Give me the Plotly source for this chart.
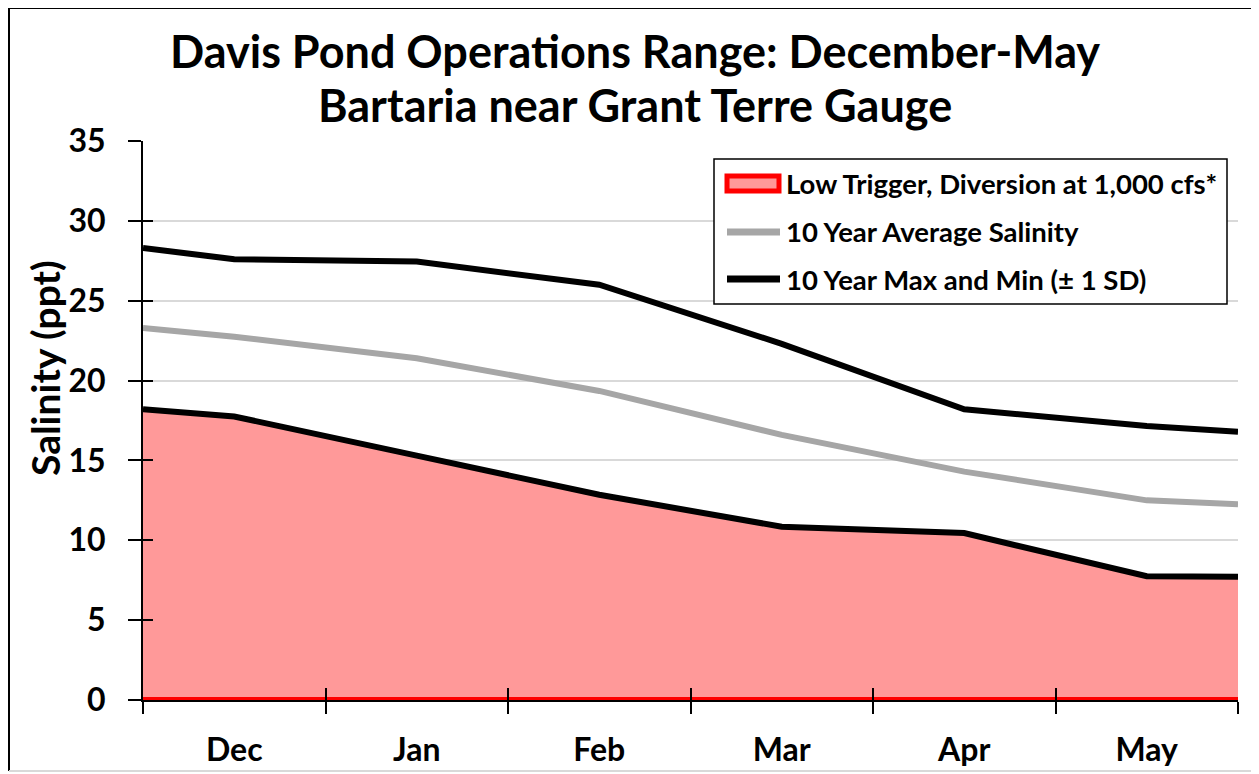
import plotly.graph_objects as go

# ---- data ----
title_lines = ["Davis Pond Operations Range: December-May", "Bartaria near Grant Terre Gauge"]
y_title = "Salinity (ppt)"
months = ["Dec", "Jan", "Feb", "Mar", "Apr", "May"]
month_centers = [0.5, 1.5, 2.5, 3.5, 4.5, 5.5]
month_bounds = [0, 1, 2, 3, 4, 5, 6]
x_points = [0, 0.5, 1.5, 2.5, 3.5, 4.5, 5.5, 6]
sal_max = [28.3, 27.6, 27.45, 26.0, 22.3, 18.2, 17.15, 16.8]
sal_avg = [23.3, 22.75, 21.4, 19.35, 16.6, 14.3, 12.5, 12.25]
sal_min = [18.2, 17.75, 15.3, 12.85, 10.85, 10.45, 7.75, 7.72]
low_trigger = [0, 0, 0, 0, 0, 0, 0, 0]
y_ticks = [0, 5, 10, 15, 20, 25, 30, 35]
legend_names = ["Low Trigger, Diversion at 1,000 cfs*", "10 Year Average Salinity",
                "10 Year Max and Min (± 1 SD)"]

FONT = "Lato"
OFF = 8  # page body margin offset
W, H = 1259, 774
# plot area in screen pixels: x 143..1238, y 141..700
ML, MT = 143 - OFF, 141 - OFF
MR, MB = W - (1238 - OFF), H - (700 - OFF)
PW, PH = W - ML - MR, H - MT - MB


def px(x):  # screen pixel x -> paper x
    return (x - OFF - ML) / PW


def py(y):  # screen pixel y -> paper y
    return (H - MB - (y - OFF)) / PH


fig = go.Figure()

fig.add_trace(go.Scatter(
    x=x_points, y=sal_min, mode="lines", fill="tozeroy",
    fillcolor="#FF9999", line=dict(color="#FF0000", width=3),
    name=legend_names[0], showlegend=False))
fig.add_trace(go.Scatter(
    x=x_points, y=low_trigger, mode="lines",
    line=dict(color="#FF0000", width=6), showlegend=False))
fig.add_trace(go.Scatter(
    x=x_points, y=sal_avg, mode="lines",
    line=dict(color="#A6A6A6", width=6),
    name=legend_names[1], showlegend=False))
fig.add_trace(go.Scatter(
    x=x_points, y=sal_max, mode="lines",
    line=dict(color="#000000", width=6),
    name=legend_names[2], showlegend=False))
fig.add_trace(go.Scatter(
    x=x_points, y=sal_min, mode="lines",
    line=dict(color="#000000", width=6), showlegend=False))
# invisible helper trace for overlay axes (inner half of crossing ticks)
fig.add_trace(go.Scatter(
    x=[x_points[0]], y=[low_trigger[0]], xaxis="x2", yaxis="y2", mode="markers",
    marker=dict(opacity=0), showlegend=False, hoverinfo="skip"))

fig.update_layout(
    width=W, height=H,
    margin=dict(l=ML, r=MR, t=MT, b=MB),
    paper_bgcolor="white", plot_bgcolor="white",
    font=dict(family=FONT, color="black"),
    showlegend=False,
    xaxis=dict(
        range=[0, 6], tickmode="array", tickvals=month_centers, ticktext=["<b>%s</b>" % m for m in months],
        ticks="", showgrid=False, showline=True, linecolor="black", linewidth=2,
        tickfont=dict(family=FONT, size=32), ticklabelstandoff=21, zeroline=False,
        minor=dict(tickmode="array", tickvals=month_bounds, ticks="outside",
                   ticklen=12, tickwidth=2, tickcolor="black", showgrid=False),
    ),
    yaxis=dict(
        range=[0, 35], tickmode="array", tickvals=y_ticks, ticktext=["<b>%d</b>" % v for v in y_ticks],
        ticks="outside", ticklen=13, tickwidth=2, tickcolor="black",
        showgrid=True, gridcolor="#D9D9D9", gridwidth=2,
        showline=True, linecolor="black", linewidth=2, zeroline=False,
        tickfont=dict(family=FONT, size=32), ticklabelstandoff=16,
    ),
    xaxis2=dict(
        overlaying="x", anchor="y2", range=[0, 6], tickmode="array", tickvals=month_bounds,
        ticks="inside", ticklen=12, tickwidth=2, tickcolor="black",
        showticklabels=False, showgrid=False, showline=False, zeroline=False),
    yaxis2=dict(
        overlaying="y", anchor="x2", range=[0, 35], tickmode="array", tickvals=y_ticks,
        ticks="inside", ticklen=10, tickwidth=2, tickcolor="black",
        showticklabels=False, showgrid=False, showline=False, zeroline=False),
)

# title
fig.add_annotation(
    text="<b>%s</b>" % title_lines[0], showarrow=False,
    xref="paper", yref="paper", x=px(635), y=py(51), xanchor="center", yanchor="middle",
    font=dict(family=FONT, size=45, color="black"))
fig.add_annotation(
    text="<b>%s</b>" % title_lines[1], showarrow=False,
    xref="paper", yref="paper", x=px(635), y=py(105), xanchor="center", yanchor="middle",
    font=dict(family=FONT, size=45, color="black"))

# y-axis title
fig.add_annotation(
    text="<b>%s</b>" % y_title, textangle=-90, showarrow=False,
    xref="paper", yref="paper", x=px(45), y=py(368), xanchor="center", yanchor="middle",
    font=dict(family=FONT, size=39, color="black"))

# legend (box, symbols, labels)
fig.add_shape(type="rect", xref="paper", yref="paper",
              x0=px(714), x1=px(1227), y0=py(304), y1=py(159),
              fillcolor="white", line=dict(color="black", width=1.5))
rows = [183, 232, 279]
fig.add_shape(type="rect", xref="paper", yref="paper",
              x0=px(727), x1=px(779), y0=py(191), y1=py(176),
              fillcolor="#FF9999", line=dict(color="#FF0000", width=5))
fig.add_shape(type="line", xref="paper", yref="paper",
              x0=px(727), x1=px(780), y0=py(rows[1]), y1=py(rows[1]),
              line=dict(color="#A6A6A6", width=7))
fig.add_shape(type="line", xref="paper", yref="paper",
              x0=px(727), x1=px(780), y0=py(rows[2]), y1=py(rows[2]),
              line=dict(color="#000000", width=7))
for name, r in zip(legend_names, rows):
    fig.add_annotation(
        text="<b>%s</b>" % name, showarrow=False,
        xref="paper", yref="paper", x=px(784), y=py(r), xanchor="left", yanchor="middle",
        font=dict(family=FONT, size=27.5, color="black"))

# chart frame
L, R, T, B = px(9), px(1252), py(8), py(771)
fig.add_shape(type="line", xref="paper", yref="paper", x0=L, x1=L, y0=B, y1=T,
              line=dict(color="black", width=2))
fig.add_shape(type="line", xref="paper", yref="paper", x0=L, x1=R, y0=T, y1=T,
              line=dict(color="black", width=2))
fig.add_shape(type="line", xref="paper", yref="paper", x0=R, x1=R, y0=B, y1=T,
              line=dict(color="#D9D9D9", width=2))
fig.add_shape(type="line", xref="paper", yref="paper", x0=L, x1=R, y0=B, y1=B,
              line=dict(color="#D9D9D9", width=2))

fig.write_html("out.html")
